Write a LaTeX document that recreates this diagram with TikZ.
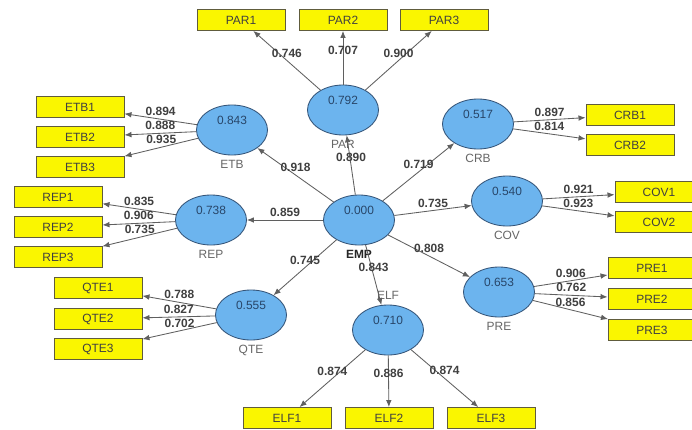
\documentclass[tikz,border=0pt]{standalone}
\usepackage{fontspec}
\setmainfont{Liberation Sans}
\usetikzlibrary{arrows.meta,shapes.geometric}
\definecolor{lvfill}{RGB}{108,180,238}
\definecolor{lvedge}{RGB}{52,84,120}
\definecolor{lvtext}{RGB}{40,70,105}
\definecolor{indfill}{RGB}{250,246,0}
\definecolor{indedge}{RGB}{96,92,60}
\definecolor{linkc}{RGB}{95,95,95}

\begin{document}
\begin{tikzpicture}[
            x = 0.025cm, y = -0.025cm,
            lv/.style = {ellipse, draw = lvedge, fill = lvfill, line width = 0.6pt,
                         minimum width = 1.775cm, minimum height = 1.25cm, inner sep = 0pt},
            val/.style = {font = \fontsize{8.5}{10}\selectfont, text = lvtext, yshift = 6.5pt},
            lvname/.style = {font = \fontsize{8.5}{10}\selectfont, text = black!60},
            ind/.style = {rectangle, draw = indedge, fill = indfill, line width = 0.6pt,
                          minimum width = 2.2cm, minimum height = 0.525cm, inner sep = 0pt,
                          font = \fontsize{8.5}{10}\selectfont, text = black!75},
            load/.style = {font = \fontsize{8.5}{10}\selectfont\bfseries, text = black!75,
                           inner sep = 1pt, midway, above = 1pt},
            link/.style = {draw = linkc, line width = 0.6pt, -{Latex[length = 5pt, width = 4pt]}}
        ]
        \useasboundingbox (0,0) rectangle (692,429);
        \clip (0,0) rectangle (692,429);
        \fill[white] (0,0) rectangle (692,429);

        % latent variables
        \foreach \n/\x/\y/\v/\p in {PAR/343/110/0.792/below, ETB/232/130/0.843/below,
                                    CRB/478/124/0.517/below, COV/507/201/0.540/below,
                                    REP/211/220/0.738/below, QTE/251/315/0.555/below,
                                    ELF/388/330/0.710/above, PRE/499/292/0.653/below}
            \node[lv, label = {[lvname]\p:\n}, label = {[val]center:\v}] (\n) at (\x,\y) {};
        \node[lv, label = {[lvname, text = black!85, font = \fontsize{8.5}{10}\selectfont\bfseries]below:EMP},
              label = {[val]center:0.000}] (EMP) at (359,220) {};

        % indicators
        \foreach \n/\x/\y in {PAR1/241/20, PAR2/343/20, PAR3/444/20,
                              ETB1/80/107, ETB2/80/137, ETB3/80/167,
                              REP1/58/197, REP2/58/227, REP3/58/257,
                              QTE1/98/288, QTE2/98/319, QTE3/98/349,
                              ELF1/287/418, ELF2/389/418, ELF3/491/418,
                              CRB1/630/115, CRB2/630/145,
                              COV1/659/192, COV2/659/222,
                              PRE1/652/268, PRE2/652/299, PRE3/652/330}
            \node[ind] (\n) at (\x,\y) {\n};

        % paths
        \foreach \a/\b/\v in {EMP/PAR/0.890, EMP/ETB/0.918, EMP/CRB/0.719, EMP/COV/0.735,
                              EMP/REP/0.859, EMP/QTE/0.745, EMP/ELF/0.843, EMP/PRE/0.808}
            \draw[link] (\a) -- node[load] {\v} (\b);

        % loadings
        \foreach \a/\b/\v in {PAR/PAR1/0.746, PAR/PAR2/0.707, PAR/PAR3/0.900,
                              ETB/ETB1/0.894, ETB/ETB2/0.888, ETB/ETB3/0.935,
                              REP/REP1/0.835, REP/REP2/0.906, REP/REP3/0.735,
                              QTE/QTE1/0.788, QTE/QTE2/0.827, QTE/QTE3/0.702,
                              ELF/ELF1/0.874, ELF/ELF2/0.886, ELF/ELF3/0.874,
                              CRB/CRB1/0.897, CRB/CRB2/0.814,
                              COV/COV1/0.921, COV/COV2/0.923,
                              PRE/PRE1/0.906, PRE/PRE2/0.762, PRE/PRE3/0.856}
            \draw[link] (\a) -- node[load] {\v} (\b);
    \end{tikzpicture}
\end{document}
